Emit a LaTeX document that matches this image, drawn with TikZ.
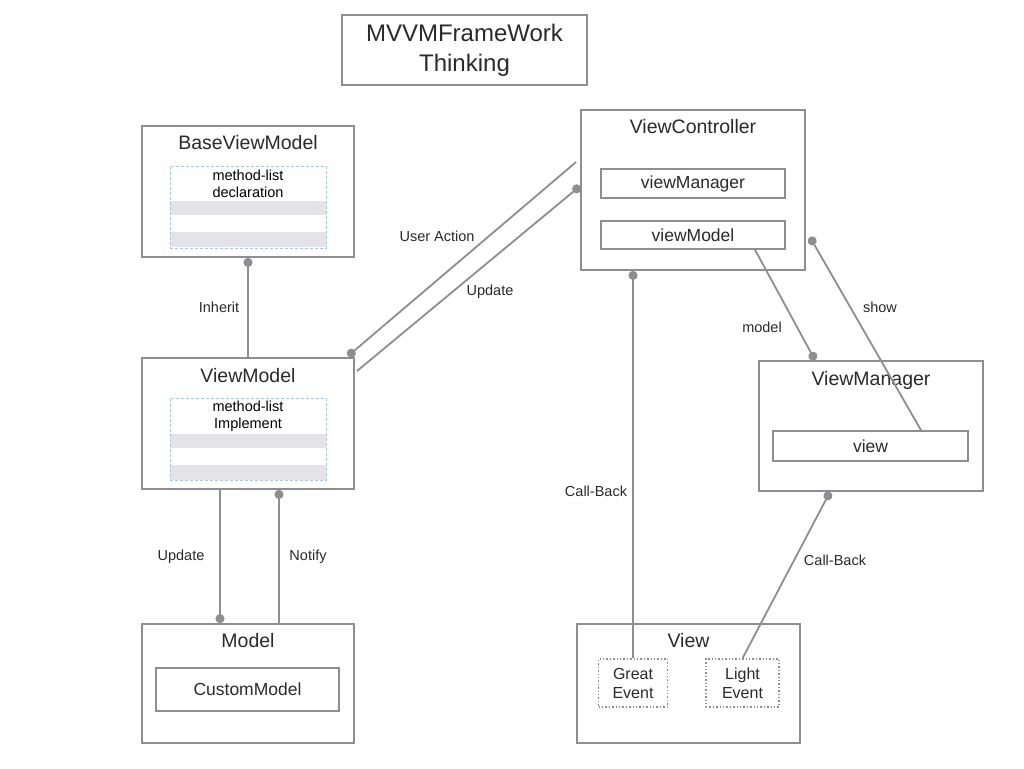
\documentclass[tikz,border=0pt]{standalone}
\usepackage{fontspec}
\setmainfont{Liberation Sans}
\usetikzlibrary{arrows.meta,calc}
\definecolor{boxgray}{HTML}{8E8E92}
\definecolor{txt}{HTML}{2A2A2A}
\definecolor{stripe}{HTML}{E4E4E8}
\definecolor{dashblue}{HTML}{A6C8E2}
\tikzset{
  box/.style={draw=boxgray, line width=1.8pt, fill=white, inner sep=0pt, minimum width=#1},
  box/.default=212pt,
  boxtitle/.style={text=txt, font=\fontsize{19.5}{23}\selectfont, inner sep=0pt},
  subbox/.style={draw=boxgray, line width=1.6pt, inner sep=0pt, text=txt, font=\fontsize{17.5}{21}\selectfont},
  dotbox/.style={draw=boxgray, line width=1.4pt, dotted, inner sep=0pt, text=txt, align=center, font=\fontsize{16}{19}\selectfont},
  innerlist/.style={draw=dashblue, line width=0.6pt, densely dashed, inner sep=0pt, minimum width=156pt, minimum height=82pt},
  listtxt/.style={text=black, align=center, font=\fontsize{14.5}{17}\selectfont, inner sep=0pt},
  lbl/.style={text=txt, font=\fontsize{14.5}{17}\selectfont, inner sep=0pt},
  conn/.style={draw=boxgray, line width=1.8pt},
  dot/.style={{Circle[length=9pt,width=9pt]}-},
}
\begin{document}
\begin{tikzpicture}[x=1pt,y=-1pt]
\useasboundingbox (0,0) rectangle (1024,768);
\fill[white] (0,0) rectangle (1024,768);

% title
\node[box=245pt, minimum height=70pt, text=txt, align=center, font=\fontsize{24}{30}\selectfont] (title) at (464.5,50) {MVVMFrameWork\\Thinking};

% BaseViewModel
\node[box, minimum height=131pt] (base) at (248,191.5) {};
\node[boxtitle] (baseT) at (248,143) {BaseViewModel};
\fill[stripe] (170,201) rectangle (326,215);
\fill[stripe] (170,232) rectangle (326,247);
\node[innerlist] (baseL) at (248,207) {};
\node[listtxt] (baseTxt) at (248,184) {method-list\\declaration};

% ViewModel
\node[box, minimum height=131pt] (vm) at (248,423.5) {};
\node[boxtitle] (vmT) at (248,376) {ViewModel};
\fill[stripe] (170,434) rectangle (326,448);
\fill[stripe] (170,465) rectangle (326,480);
\node[innerlist] (vmL) at (248,439) {};
\node[listtxt] (vmTxt) at (248,416) {method-list\\Implement};

% Model
\node[box, minimum height=119pt] (model) at (248,683.5) {};
\node[boxtitle] (modelT) at (248,641) {Model};
\node[subbox, minimum width=183pt, minimum height=43pt] (custom) at (247.5,689.5) {CustomModel};

% ViewController
\node[box=224pt, minimum height=160pt] (vc) at (693,190) {};
\node[boxtitle] (vcT) at (693,127) {ViewController};
\node[subbox, minimum width=184pt, minimum height=29pt] (vcmgr) at (693,183.5) {viewManager};
\node[subbox, minimum width=184pt, minimum height=28pt] (vcmodel) at (693,235) {viewModel};

% ViewManager
\node[box=224pt, minimum height=130pt] (vmgr) at (871,426) {};
\node[boxtitle] (vmgrT) at (871,380) {ViewManager};
\node[subbox, minimum width=195pt, minimum height=30pt] (viewbox) at (870.5,446) {view};

% View
\node[box=223pt, minimum height=119pt] (view) at (688.5,683.5) {};
\node[boxtitle] (viewT) at (688.5,641) {View};
\node[dotbox, minimum width=69pt, minimum height=48pt] (great) at (633,683) {Great\\Event};
\node[dotbox, minimum width=73pt, minimum height=48pt] (light) at (742.5,683) {Light\\Event};

% connectors
\draw[conn, dot] (base.south) -- (vm.north);
\draw[conn, dot] ($(vm.north east)+(-7,-1)$) -- ($(vc.west)+(-4,-28)$);
\draw[conn, dot] ($(vc.west)+(0,-4)$) -- ($(vm.north east)+(2,14)$);
\draw[conn, dot] ($(model.north)+(-28,0)$) -- ($(vm.south)+(-28,0)$);
\draw[conn, dot] ($(vm.south)+(31,0)$) -- ($(model.north)+(31,0)$);
\draw[conn, dot] (great.north |- vc.south) -- (great.north);
\draw[conn, dot] ($(vmgr.north)+(-56,0)$) -- ($(vcmodel.south)+(62,0)$);
\draw[conn, dot] ($(vc.east)+(4,47)$) -- ($(viewbox.north)+(50.5,0)$);
\draw[conn, dot] ($(vmgr.south)+(-41,0)$) -- (light.north);

% labels
\node[lbl] (lInherit) at (219,307) {Inherit};
\node[lbl] (lUser) at (437,236) {User Action};
\node[lbl] (lUpd1) at (490,292) {Update};
\node[lbl] (lUpd2) at (181,557) {Update};
\node[lbl] (lNotify) at (308,557) {Notify};
\node[lbl] (lCb1) at (596,491) {Call-Back};
\node[lbl] (lModel) at (762,327) {model};
\node[lbl] (lShow) at (880,307) {show};
\node[lbl] (lCb2) at (835,560) {Call-Back};
\end{tikzpicture}
\end{document}
